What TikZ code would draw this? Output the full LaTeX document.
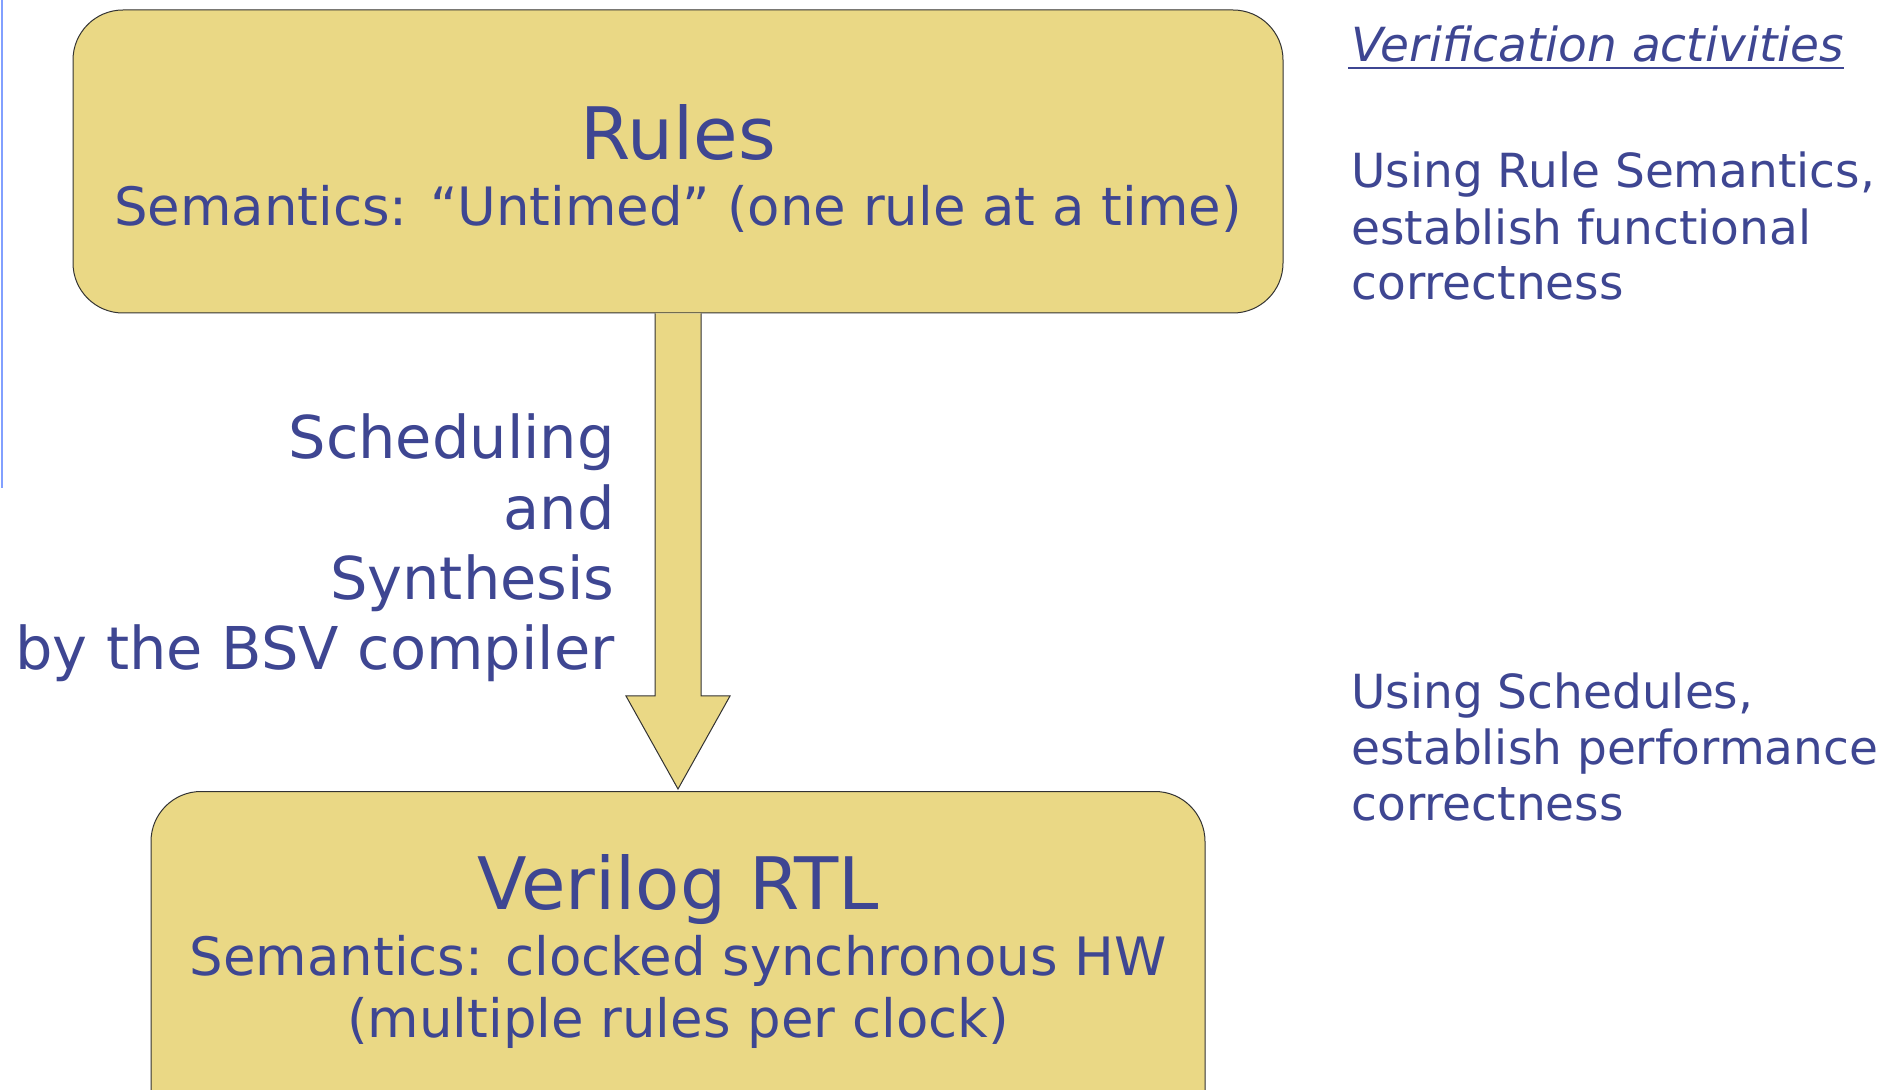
\documentclass[tikz,border=0pt]{standalone}
\usepackage{fontspec}
\setmainfont{DejaVu Sans}
\usetikzlibrary{calc}
\definecolor{boxfill}{RGB}{234,216,133}
\definecolor{txt}{RGB}{62,70,146}
\definecolor{vline}{RGB}{130,160,255}
\begin{document}
\begin{tikzpicture}[x=0.5pt,y=-0.5pt,
  box/.style={draw=black!80, line width=0.5pt, fill=boxfill, rounded corners=25pt, inner sep=0},
  lbl/.style={text=txt, inner sep=0},
  title/.style={lbl, font=\fontsize{36.2}{40}\selectfont, anchor=base},
  sub/.style={lbl, font=\fontsize{26.45}{30}\selectfont, anchor=base},
  side/.style={lbl, font=\fontsize{29.5}{35}\selectfont, anchor=base east},
  note/.style={lbl, font=\fontsize{23.5}{28}\selectfont, anchor=base west},
  inote/.style={lbl, font=\fontsize{23.5}{28}\selectfont\itshape, anchor=base west},
]
\clip (0,0) rectangle (1896,1090);
\fill[white] (0,0) rectangle (1896,1090);
\draw[vline, line width=1pt] (2,0) -- (2,488);
\node[box, minimum width=605pt, minimum height=151.5pt] (rules) at (678,161.5) {};
\node[box, minimum width=527pt, minimum height=180pt, anchor=north] (rtl) at (678,791) {};
\filldraw[draw=black!80, line width=0.5pt, fill=boxfill]
  ($(rules.south)+(-23,0)$) -- ($(rtl.north)+(-23,-95)$) -- ($(rtl.north)+(-52,-95)$)
  -- ($(rtl.north)+(0,-2)$) -- ($(rtl.north)+(52,-95)$) -- ($(rtl.north)+(23,-95)$)
  -- ($(rules.south)+(23,0)$);
\node[title] (t1) at (678,160) {Rules};
\node[sub] (t1s) at (678,226) {Semantics: “Untimed” (one rule at a time)};
\node[side] (s1) at (615,459) {Scheduling};
\node[side] (s2) at (615,530) {and};
\node[side] (s3) at (615,600) {Synthesis};
\node[side] (s4) at (615,670) {by the BSV compiler};
\node[title] (t2) at (678,909) {Verilog RTL};
\node[sub] (t2s) at (678,975) {Semantics: clocked synchronous HW};
\node[sub] (t2m) at (678,1037) {(multiple rules per clock)};
\node[inote] (v) at (1351,62) {Verification activities};
\draw[txt, line width=1pt] ($(v.base west)+(-3,6)$) -- ($(v.base east)+(0,6)$);
\node[note] (n1) at (1351,188) {Using Rule Semantics,};
\node[note] (n2) at (1351,245) {establish functional};
\node[note] (n3) at (1351,300) {correctness};
\node[note] (m1) at (1351,709) {Using Schedules,};
\node[note] (m2) at (1351,764) {establish performance};
\node[note] (m3) at (1351,820) {correctness};
\end{tikzpicture}
\end{document}
